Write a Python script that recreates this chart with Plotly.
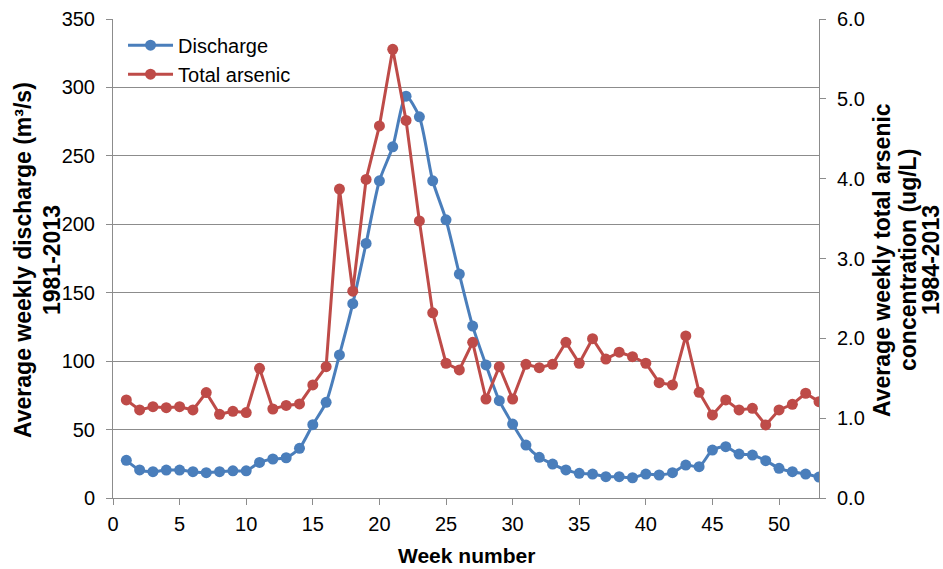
import plotly.graph_objects as go

weeks = list(range(1, 54))
discharge = [27.5, 20.5, 19.2, 20.4, 20.4, 19.2, 18.5, 19.2, 19.9, 19.9,
             26.0, 28.5, 29.4, 36.3, 53.6, 69.9, 104.5, 142.0, 186.0, 231.8,
             256.6, 293.6, 278.5, 231.8, 203.3, 163.6, 125.6, 97.2, 71.1, 54.0,
             38.7, 29.7, 24.8, 20.5, 18.0, 17.5, 15.6, 15.6, 14.8, 17.5,
             16.8, 18.5, 24.1, 22.9, 35.0, 37.5, 32.1, 31.4, 27.3, 21.7,
             19.2, 17.5, 15.3]
arsenic = [1.228, 1.103, 1.144, 1.132, 1.144, 1.103, 1.320, 1.048, 1.086, 1.070,
           1.625, 1.115, 1.160, 1.178, 1.416, 1.645, 3.870, 2.590, 3.990, 4.660,
           5.620, 4.730, 3.470, 2.320, 1.688, 1.604, 1.950, 1.240, 1.645, 1.240,
           1.675, 1.633, 1.675, 1.950, 1.688, 1.995, 1.740, 1.826, 1.770, 1.688,
           1.445, 1.416, 2.030, 1.324, 1.040, 1.228, 1.103, 1.124, 0.915, 1.103,
           1.174, 1.312, 1.207]

left_title = ["Average weekly discharge (m³/s)", "1981-2013"]
right_title = ["Average weekly total arsenic", "concentration (ug/L)", "1984-2013"]
x_title = "Week number"

blue = "#4A7EBB"
red = "#BE4B48"
grid = "#8C8C8C"
font = "Liberation Sans, Arial, sans-serif"

W, H = 943, 569
L, R, T, B = 113, 124, 19, 71
pw = W - L - R
ph = H - T - B


def px_x(p):
    return (p - L) / pw


def px_y(p):
    return (H - B - p) / ph


fig = go.Figure()
fig.add_trace(go.Scatter(
    x=weeks, y=discharge, name="Discharge", mode="lines+markers",
    line=dict(color=blue, width=3, shape="spline", smoothing=0.7),
    marker=dict(color=blue, size=11), yaxis="y"))
fig.add_trace(go.Scatter(
    x=weeks, y=arsenic, name="Total arsenic", mode="lines+markers",
    line=dict(color=red, width=3),
    marker=dict(color=red, size=11), yaxis="y2"))

ann = []
for txt, xp in zip(left_title, [23, 52]):
    ann.append(dict(text="<b>" + txt + "</b>", xref="paper", yref="paper",
                    x=px_x(xp), y=px_y(260),
                    xanchor="center", yanchor="middle", textangle=-90,
                    showarrow=False, font=dict(size=23, family=font, color="#000")))
for txt, xp in zip(right_title, [882, 908, 931]):
    ann.append(dict(text="<b>" + txt + "</b>", xref="paper", yref="paper",
                    x=px_x(xp), y=px_y(260),
                    xanchor="center", yanchor="middle", textangle=-90,
                    showarrow=False, font=dict(size=23, family=font, color="#000")))
ann.append(dict(text="<b>" + x_title + "</b>", xref="paper", yref="paper",
                x=px_x(466), y=px_y(555), xanchor="center", yanchor="middle",
                showarrow=False, font=dict(size=21, family=font, color="#000")))

fig.update_layout(
    width=W, height=H,
    margin=dict(l=L, r=R, t=T, b=B, autoexpand=False),
    paper_bgcolor="white", plot_bgcolor="white",
    font=dict(family=font, size=20, color="#000000"),
    showlegend=True,
    legend=dict(x=0.0142, y=0.986, xanchor="left", yanchor="top",
                bgcolor="rgba(255,255,255,0)", font=dict(size=20),
                tracegroupgap=0, itemwidth=45),
    annotations=ann,
    xaxis=dict(range=[0, 53], tick0=0, dtick=5, showgrid=False,
               showline=True, linecolor=grid, linewidth=1,
               ticks="outside", ticklen=6, tickcolor=grid, automargin=False,
               tickfont=dict(size=20), zeroline=False, ticklabelstandoff=2),
    yaxis=dict(range=[0, 350], dtick=50, showgrid=True, gridcolor=grid,
               gridwidth=1, showline=True, linecolor=grid, linewidth=1,
               ticks="outside", ticklen=6, tickcolor=grid, zeroline=False,
               automargin=False, tickfont=dict(size=20), ticklabelstandoff=7),
    yaxis2=dict(range=[0, 6], dtick=1, tickformat=".1f", overlaying="y",
                side="right", showgrid=False, showline=True, linecolor=grid,
                linewidth=1, ticks="outside", ticklen=6, tickcolor=grid,
                automargin=False, zeroline=False, tickfont=dict(size=20),
                ticklabelstandoff=7),
)

fig.write_html("out.html")
